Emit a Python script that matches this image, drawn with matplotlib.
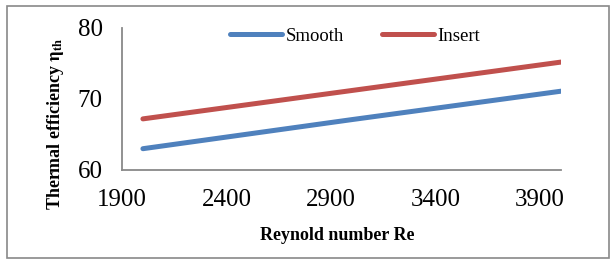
import matplotlib
matplotlib.use("Agg")
import matplotlib.pyplot as plt
from matplotlib.patches import Rectangle

plt.rcParams['font.family'] = ['Liberation Serif', 'DejaVu Serif']
plt.rcParams['mathtext.fontset'] = 'stix'

# ── Data ──────────────────────────────────────────────────────────────────────
reynolds = [2000, 3000, 4000]
smooth   = [63.0, 67.1, 71.1]
insert   = [67.2, 71.2, 75.2]
x_ticks  = [1900, 2400, 2900, 3400, 3900]
y_ticks  = [60, 70, 80]

BLUE = "#4F81BD"
RED  = "#C0504D"
GREY = "#898989"

# ── Plot ──────────────────────────────────────────────────────────────────────
fig = plt.figure(figsize=(6.13, 2.61), dpi=100)
fig.patches.append(Rectangle((7 / 613, 3 / 261), 602 / 613, 252 / 261,
                             transform=fig.transFigure, fill=False,
                             edgecolor=GREY, linewidth=1.2))

ax = fig.add_axes([122 / 613, 91 / 261, 439 / 613, 142 / 261])
ax.plot(reynolds, smooth, color=BLUE, linewidth=3.6, solid_capstyle='round', label="Smooth")
ax.plot(reynolds, insert, color=RED,  linewidth=3.6, solid_capstyle='round', label="Insert")

ax.set_xlim(1900, 4000)
ax.set_ylim(60, 80)
ax.set_xticks(x_ticks)
ax.set_yticks(y_ticks)
ax.tick_params(length=0, labelsize=18, pad=14)
for side in ("top", "right"):
    ax.spines[side].set_visible(False)
for side in ("left", "bottom"):
    ax.spines[side].set_edgecolor(GREY)
    ax.spines[side].set_linewidth(1.3)

ax.legend(loc="center", bbox_to_anchor=(355 / 613, 225 / 261),
          bbox_transform=fig.transFigure, ncol=2, frameon=False,
          fontsize=13.5, handlelength=2.8, handletextpad=0.2, columnspacing=2.0)

fig.text(337 / 613, 1 - 236 / 261, "Reynold number Re", ha="center", va="center",
         fontsize=13, fontweight="bold")
fig.text(55 / 613, 1 - 124 / 261, r"Thermal efficiency $\mathbf{\eta_{th}}$",
         ha="center", va="center", rotation=90, fontsize=13, fontweight="bold")

fig.savefig("out.png", dpi=100)
